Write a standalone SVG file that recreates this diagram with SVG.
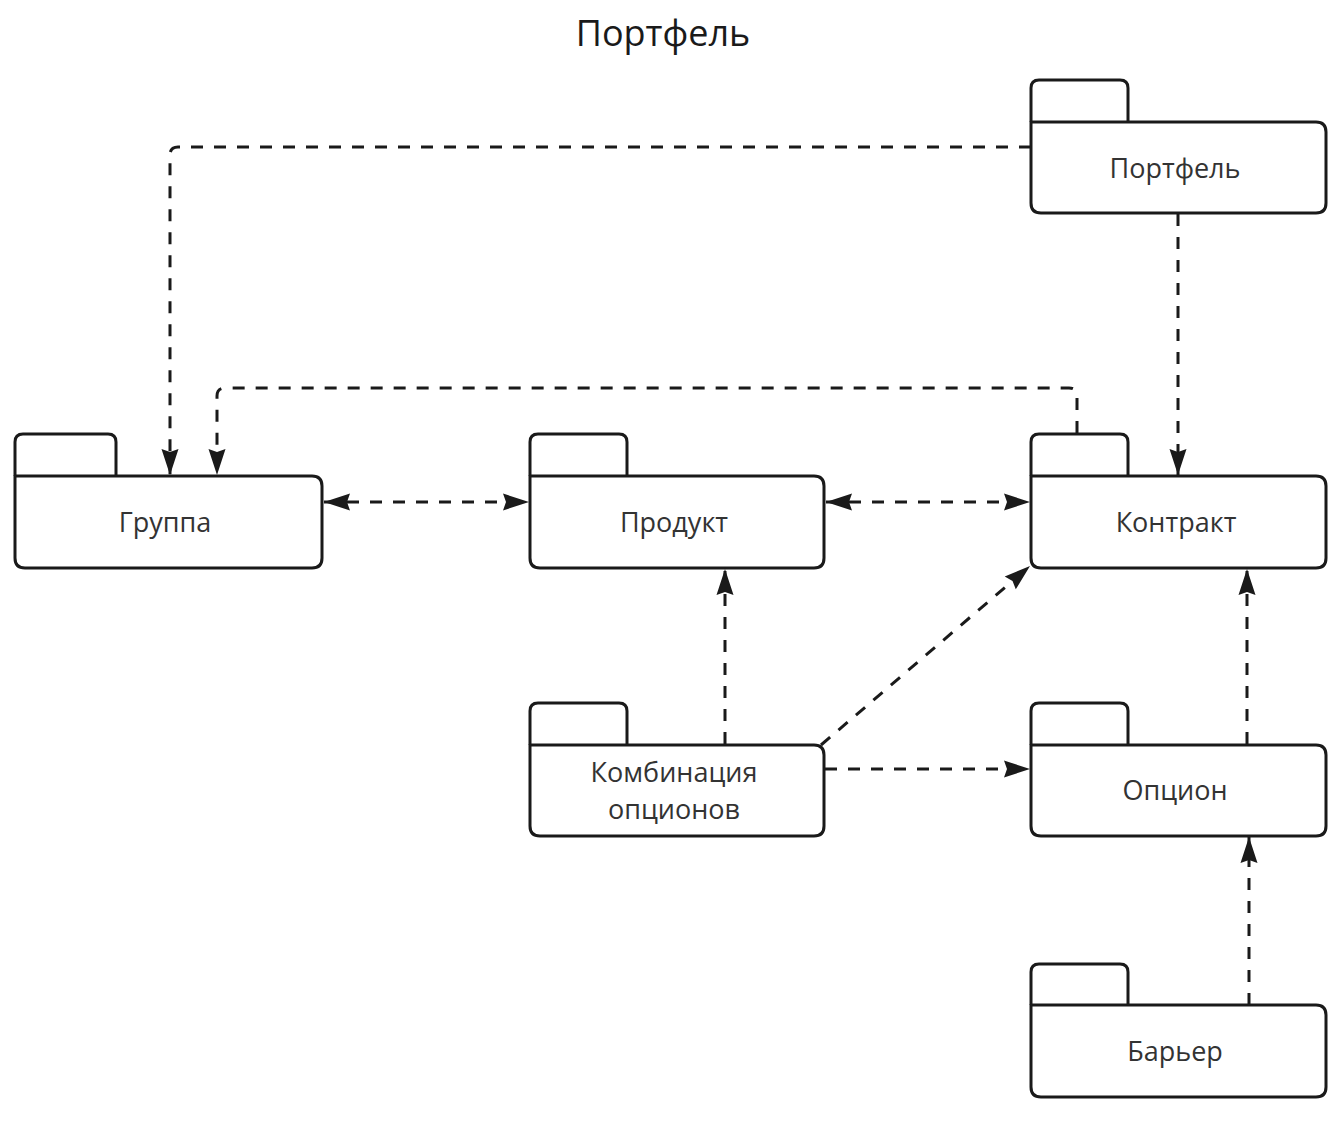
<svg xmlns="http://www.w3.org/2000/svg" width="1344" height="1124" viewBox="0 0 1344 1124">
<defs>
<style>
.pk{fill:#fff;stroke:#1a1a1a;stroke-width:3;stroke-linejoin:round}
.tab{fill:none;stroke:#1a1a1a;stroke-width:3;stroke-linejoin:round}
.lbl{font-family:"Open Sans","Noto Sans",sans-serif;font-size:27px;fill:#333;text-anchor:middle}
.title{font-family:"Open Sans","Noto Sans",sans-serif;font-size:36px;fill:#1a1a1a;text-anchor:middle}
.cn{fill:none;stroke:#1a1a1a;stroke-width:3;stroke-dasharray:12 11}
</style>
<marker id="ah" viewBox="0 0 28 18" refX="27" refY="9" markerWidth="28" markerHeight="18" markerUnits="userSpaceOnUse" orient="auto-start-reverse">
<path d="M27,9 L1,0.5 L4,9 L1,17.5 Z" fill="#1a1a1a"/>
</marker>
</defs>
<rect width="1344" height="1124" fill="#fff"/>
<text class="title" x="663" y="46">Портфель</text>

<g id="connectors">
<path class="cn" d="M1031,147 H178 Q170,147 170,155 V475" marker-end="url(#ah)"/>
<path class="cn" d="M1178,214 V475" marker-end="url(#ah)"/>
<path class="cn" d="M1077,433 V396 Q1077,388 1069,388 H225 Q217,388 217,396 V475" marker-end="url(#ah)"/>
<path class="cn" d="M324,502 H529" marker-start="url(#ah)" marker-end="url(#ah)"/>
<path class="cn" d="M826,502 H1030" marker-start="url(#ah)" marker-end="url(#ah)"/>
<path class="cn" d="M725,744 V569" marker-end="url(#ah)"/>
<path class="cn" d="M821,745 L1030,566" marker-end="url(#ah)"/>
<path class="cn" d="M825,769 H1030" marker-end="url(#ah)"/>
<path class="cn" d="M1247,744 V569" marker-end="url(#ah)"/>
<path class="cn" d="M1249,1005 V837" marker-end="url(#ah)"/>
</g>

<g id="portfel">
<path class="tab" d="M1031,122 V88 Q1031,80 1039,80 H1120 Q1128,80 1128,88 V122"/>
<path class="pk" d="M1031,122 H1316 Q1326,122 1326,132 V203 Q1326,213 1316,213 H1041 Q1031,213 1031,203 Z"/>
<text class="lbl" x="1175" y="178">Портфель</text>
</g>

<g id="gruppa">
<path class="tab" d="M15,476 V442 Q15,434 23,434 H108 Q116,434 116,442 V476"/>
<path class="pk" d="M15,476 H312 Q322,476 322,486 V558 Q322,568 312,568 H25 Q15,568 15,558 Z"/>
<text class="lbl" x="165" y="532">Группа</text>
</g>

<g id="produkt">
<path class="tab" d="M530,476 V442 Q530,434 538,434 H619 Q627,434 627,442 V476"/>
<path class="pk" d="M530,476 H814 Q824,476 824,486 V558 Q824,568 814,568 H540 Q530,568 530,558 Z"/>
<text class="lbl" x="674" y="532">Продукт</text>
</g>

<g id="kontrakt">
<path class="tab" d="M1031,476 V442 Q1031,434 1039,434 H1120 Q1128,434 1128,442 V476"/>
<path class="pk" d="M1031,476 H1316 Q1326,476 1326,486 V558 Q1326,568 1316,568 H1041 Q1031,568 1031,558 Z"/>
<text class="lbl" x="1176" y="532">Контракт</text>
</g>

<g id="kombinatsiya">
<path class="tab" d="M530,745 V711 Q530,703 538,703 H619 Q627,703 627,711 V745"/>
<path class="pk" d="M530,745 H814 Q824,745 824,755 V826 Q824,836 814,836 H540 Q530,836 530,826 Z"/>
<text class="lbl" x="674" y="782">Комбинация</text>
<text class="lbl" x="674" y="819">опционов</text>
</g>

<g id="option">
<path class="tab" d="M1031,745 V711 Q1031,703 1039,703 H1120 Q1128,703 1128,711 V745"/>
<path class="pk" d="M1031,745 H1316 Q1326,745 1326,755 V826 Q1326,836 1316,836 H1041 Q1031,836 1031,826 Z"/>
<text class="lbl" x="1175" y="800">Опцион</text>
</g>

<g id="barier">
<path class="tab" d="M1031,1005 V972 Q1031,964 1039,964 H1120 Q1128,964 1128,972 V1005"/>
<path class="pk" d="M1031,1005 H1316 Q1326,1005 1326,1015 V1087 Q1326,1097 1316,1097 H1041 Q1031,1097 1031,1087 Z"/>
<text class="lbl" x="1175" y="1061">Барьер</text>
</g>
</svg>
